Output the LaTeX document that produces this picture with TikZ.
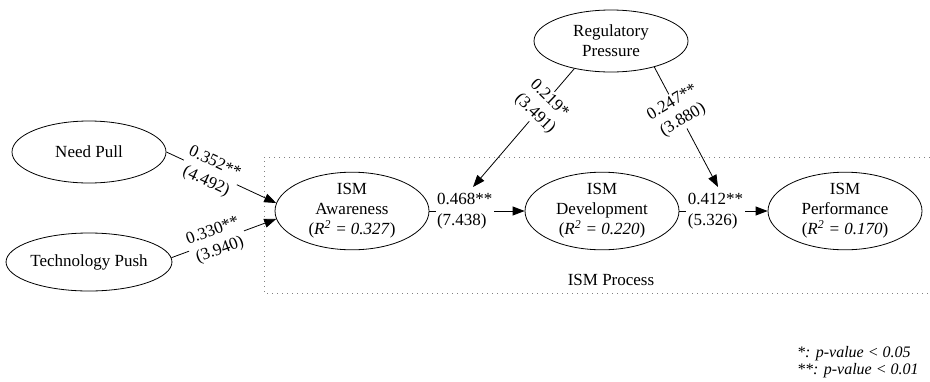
\documentclass[tikz,border=0pt]{standalone}
\usepackage{fontspec}
\setmainfont{Liberation Serif}
\usetikzlibrary{shapes.geometric,arrows.meta}
\begin{document}
\begin{tikzpicture}[x=1pt,y=-1pt,
  lat/.style={draw, ellipse, line width=0.8pt, inner sep=0pt, minimum width=154pt,
    minimum height=#1, align=center, font=\fontsize{17}{20}\selectfont},
  lat/.default=72pt,
  conn/.style={line width=0.8pt, -{Triangle[length=12pt,width=9pt]}},
  lbl/.style={fill=white, inner sep=1.5pt, align=center, font=\fontsize{17}{20.5}\selectfont},
  frame/.style={gray, line width=0.9pt, dash pattern=on 1pt off 4pt}
]
\useasboundingbox (0,0) rectangle (930,381);

% process frame (open on the right)
\coordinate (ft) at (935,157);
\coordinate (fl) at (264,157);
\coordinate (fb) at (264,293);
\coordinate (fr) at (935,293);
\draw[frame] (ft) -- (fl) -- (fb) -- (fr);
\node[font=\fontsize{17}{20}\selectfont, inner sep=0pt] (proc) at (611,280) {ISM Process};

% constructs
\node[lat=62pt] (np) at (89,152) {Need Pull};
\node[lat=58pt] (tp) at (89,262) {Technology Push};
\node[lat=62pt] (rp) at (611,41) {Regulatory\\Pressure};
\node[lat] (aw) at (352,211) {ISM\\Awareness\\(\textit{R\textsuperscript{2} = 0.327})};
\node[lat] (dev) at (602,211) {ISM\\Development\\(\textit{R\textsuperscript{2} = 0.220})};
\node[lat] (perf) at (845,211) {ISM\\Performance\\(\textit{R\textsuperscript{2} = 0.170})};

% free ends of the moderation arrows
\coordinate (m1) at (473,187);
\coordinate (m2) at (718,187);

% paths
\draw[conn] (np.east) -- node[lbl, sloped, pos=0.4] {0.352**\\(4.492)} (aw.174);
\draw[conn] (tp.3) -- node[lbl, sloped, pos=0.43] {0.330**\\(3.940)} (aw.186);
\draw[conn] (aw) -- node[lbl, align=left, pos=0.37] {0.468**\\(7.438)} (dev);
\draw[conn] (dev) -- node[lbl, align=left, pos=0.41] {0.412**\\(5.326)} (perf);
\draw[conn] (rp.217.6) -- node[lbl, rotate=-44, pos=0.32] {0.219*\\(3.491)} (m1);
\draw[conn] (rp.329.6) -- node[lbl, rotate=31, pos=0.37] {0.247**\\(3.880)} (m2);

% legend
\node[anchor=west, inner sep=0pt, align=left, font=\fontsize{16}{17.5}\selectfont\itshape] (legend) at (797,362)
  {*: p-value < 0.05\\**: p-value < 0.01};
\end{tikzpicture}
\end{document}
